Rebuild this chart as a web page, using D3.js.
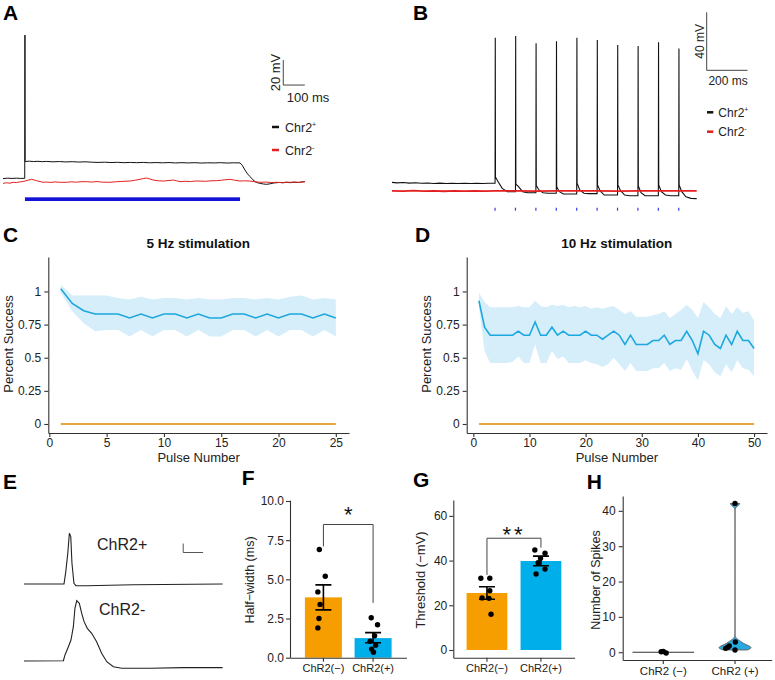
<!DOCTYPE html>
<html><head><meta charset="utf-8">
<script src="https://cdn.jsdelivr.net/npm/d3@7"></script>
<style>
body{margin:0;background:#fff}
svg{display:block}
</style></head><body>
<svg id="fig" width="775" height="680"></svg>
<script>
// ================= DATA =================
// Panel A: 1 s light pulse, traces as [ms, mV]
const traceA_plus = [[-102,-65.2],[-80,-64.9],[-60,-65.1],[-40,-64.9],[-20,-65.1],[-1,-65],[0,49.6],[1,-51.6],[20,-51.3],[40,-51.6],[60,-51.4],[80,-51.7],[100,-51.5],[130,-51.8],[160,-51.6],[190,-51.9],[220,-51.7],[250,-52.0],[280,-51.8],[310,-52.1],[340,-52.3],[370,-52.1],[400,-52.4],[430,-52.2],[460,-52.5],[490,-52.3],[520,-52.5],[550,-52.3],[580,-52.6],[610,-52.4],[640,-52.6],[670,-52.4],[700,-52.7],[730,-52.5],[760,-52.7],[790,-52.5],[820,-52.8],[850,-52.6],[880,-52.7],[910,-52.5],[940,-52.8],[970,-52.6],[1000,-52.7],[1010,-54.5],[1023,-58.4],[1035,-61.5],[1047,-63.7],[1060,-66.2],[1070,-67.7],[1082,-68.6],[1093,-69.0],[1110,-69.6],[1124,-69.8],[1140,-69.4],[1155,-68.8],[1171,-68.5],[1186,-68.3],[1200,-68.6],[1215,-68.2],[1233,-68.5],[1250,-68.1],[1270,-68.4],[1285,-67.9],[1302,-67.7]];
const traceA_minus = [[-102,-69],[-85,-68.6],[-70,-68.9],[-54,-68.2],[-40,-68.4],[-25,-67.9],[-10,-67.6],[0,-67.2],[15,-66.5],[31,-65.8],[42,-66.3],[54,-66.9],[70,-67.6],[85,-68.2],[100,-68.0],[120,-68.3],[140,-67.9],[160,-68.2],[194,-68.2],[215,-67.8],[240,-68.1],[265,-67.7],[287,-67.7],[310,-68.0],[335,-67.6],[360,-68.1],[395,-68.2],[420,-67.8],[450,-67.5],[488,-67.2],[510,-66.6],[535,-65.8],[550,-65.2],[566,-64.8],[580,-65.5],[597,-66.4],[620,-67.0],[643,-67.2],[665,-66.8],[690,-66.4],[705,-67.0],[721,-67.7],[745,-67.4],[770,-67.6],[790,-67.2],[814,-67.2],[840,-67.4],[865,-67.0],[892,-66.9],[915,-66.5],[935,-66.1],[953,-65.8],[975,-66.5],[1000,-67.2],[1020,-67.0],[1047,-67.2],[1070,-67.8],[1093,-68.2],[1120,-68.0],[1145,-68.4],[1171,-68.2],[1195,-68.5],[1215,-68.1],[1233,-68.2],[1255,-68.0],[1280,-68.3],[1302,-67.7]];
const stimA = [0, 1000];           // light on / off (ms)
const scaleBarA = {ms: 100, mV: 20, t0: 1201, v0: 9.6};

// Panel B: 10 Hz train, traces as [ms, mV]
const traceB_plus = [[-505,-59.8],[-480,-60.1],[-450,-59.9],[-420,-60.3],[-390,-60.0],[-360,-60.4],[-330,-60.2],[-300,-60.5],[-270,-60.3],[-240,-60.5],[-210,-60.4],[-180,-60.6],[-150,-60.4],[-120,-60.6],[-90,-60.4],[-60,-60.5],[-30,-60.4],[-1,-60.4],
 [0,-60.4],[1,40.0],[2,-56],[15,-59.3],[35,-63.9],[60,-66.2],[99,-66.2],
 [100,-66.2],[101,41.2],[102,-61],[115,-62.7],[135,-66.2],[160,-66.9],[199,-66.9],
 [200,-66.9],[201,36.1],[202,-62],[215,-65],[235,-66.9],[260,-67.3],[299,-67.3],
 [300,-67.3],[301,37.5],[302,-62.8],[315,-66.2],[335,-67.8],[360,-67.8],[399,-67.8],
 [400,-67.8],[401,40],[402,-60.4],[415,-65],[435,-67.3],[460,-67.5],[499,-67.5],
 [500,-67.5],[501,38.4],[502,-61.6],[515,-65.7],[535,-68.5],[560,-68.5],[599,-68.5],
 [600,-68.5],[601,35],[602,-61.6],[615,-65.5],[635,-68.5],[660,-69],[699,-69],
 [700,-69],[701,34.3],[702,-62.3],[715,-66.9],[735,-69],[760,-69],[799,-69],
 [800,-69],[801,36.8],[802,-61.6],[815,-66.2],[835,-68.5],[860,-69],[899,-69],
 [900,-69],[901,32.6],[902,-61.6],[915,-66.2],[935,-69.7],[960,-70.8],[988,-71]];
const traceB_minus = [[-505,-65.6],[-450,-65.8],[-400,-65.5],[-350,-65.8],[-300,-65.6],[-250,-65.9],[-200,-65.6],[-150,-65.8],[-100,-65.6],[-50,-65.8],[0,-65.7],[100,-65.6],[200,-65.8],[300,-65.6],[400,-65.7],[500,-65.6],[600,-65.8],[700,-65.6],[800,-65.7],[900,-65.6],[988,-65.7]];
const stimB = [0,100,200,300,400,500,600,700,800,900];
const scaleBarB = {ms: 200, mV: 40, t0: 1037, v0: 17.5};

// Panel C: 5 Hz, 25 pulses
const c5Mean  = [1.02,0.91,0.855,0.83,0.83,0.83,0.80,0.83,0.80,0.83,0.83,0.80,0.83,0.80,0.80,0.83,0.83,0.80,0.83,0.80,0.83,0.83,0.80,0.83,0.80];
const c5Upper = [1.05,0.97,0.97,0.97,0.97,0.95,0.94,0.96,0.94,0.95,0.95,0.94,0.95,0.94,0.94,0.95,0.95,0.94,0.95,0.94,0.96,0.97,0.94,0.95,0.94];
const c5Lower = [0.99,0.85,0.76,0.70,0.71,0.71,0.66,0.71,0.66,0.71,0.71,0.66,0.71,0.66,0.66,0.71,0.71,0.66,0.71,0.66,0.71,0.71,0.66,0.71,0.66];
const c5Neg   = [0,0,0,0,0,0,0,0,0,0,0,0,0,0,0,0,0,0,0,0,0,0,0,0,0];

// Panel D: 10 Hz, 50 pulses
const d10Mean  = [0.93,0.73,0.67,0.67,0.67,0.67,0.67,0.70,0.67,0.67,0.77,0.67,0.67,0.73,0.67,0.70,0.67,0.67,0.67,0.70,0.67,0.67,0.64,0.67,0.70,0.67,0.60,0.67,0.60,0.60,0.60,0.63,0.63,0.67,0.60,0.63,0.63,0.70,0.63,0.53,0.70,0.67,0.60,0.57,0.67,0.60,0.70,0.63,0.63,0.57];
const d10Upper = [0.99,0.92,0.88,0.88,0.88,0.88,0.88,0.89,0.88,0.88,0.93,0.89,0.88,0.90,0.89,0.90,0.88,0.89,0.88,0.89,0.87,0.88,0.87,0.88,0.89,0.86,0.83,0.85,0.81,0.81,0.81,0.82,0.83,0.85,0.80,0.83,0.86,0.90,0.86,0.80,0.92,0.88,0.83,0.80,0.89,0.83,0.88,0.84,0.85,0.78];
const d10Lower = [0.88,0.55,0.46,0.46,0.46,0.46,0.47,0.51,0.46,0.46,0.60,0.46,0.46,0.55,0.49,0.51,0.46,0.46,0.46,0.48,0.46,0.45,0.43,0.45,0.50,0.45,0.40,0.46,0.40,0.40,0.40,0.42,0.42,0.46,0.40,0.42,0.41,0.49,0.40,0.33,0.48,0.45,0.39,0.36,0.45,0.39,0.48,0.42,0.41,0.36];
const d10Neg   = [0,0,0,0,0,0,0,0,0,0,0,0,0,0,0,0,0,0,0,0,0,0,0,0,0,0,0,0,0,0,0,0,0,0,0,0,0,0,0,0,0,0,0,0,0,0,0,0,0,0];

const successTicks = [0, 0.25, 0.5, 0.75, 1];
const pulseTicksC = [0, 5, 10, 15, 20, 25];
const pulseTicksD = [0, 10, 20, 30, 40, 50];

// Panel E: example action potentials [ms, mV re baseline]
const apPlus  = [[0,0],[2.01,0],[2.10,13.7],[2.20,34.1],[2.28,56.3],[2.35,52.6],[2.41,23],[2.51,0.8],[2.61,-1.9],[3.15,-1.9],[5.49,-0.8],[9.98,0]];
const apMinus = [[0,0],[1.98,0.3],[2.06,6.7],[2.23,15.9],[2.36,23.3],[2.48,38.1],[2.56,58.6],[2.65,67],[2.78,64.1],[2.90,53],[3.02,43.7],[3.18,36.3],[3.40,30.8],[3.65,21.4],[3.90,8.6],[4.16,-0.8],[4.49,-6.3],[4.91,-8.1],[6.33,-8.1],[8.01,-7.4],[9.98,-7.4]];
const scaleBarE = {ms: 1, mV: 10, t0: 8, v0: 45};

// Panels F, G, H
const groupsFG = ['ChR2(\u2212)', 'ChR2(+)'];
const halfWidthMean = [3.85, 1.25];
const halfWidthErr  = [[3.05, 4.65], [0.95, 1.6]];
const halfWidthPts  = [[6.9, 5.2, 4.2, 3.4, 2.5, 1.9], [2.55, 2.1, 1.4, 1.05, 0.8, 0.55, 0.35]];
const halfWidthJit  = [[-0.11, 0.05, -0.15, -0.09, -0.12, -0.15], [-0.05, 0.12, 0.04, -0.08, 0.07, -0.04, 0.01]];
const halfWidthTicks = [0, 2.5, 5, 7.5, 10];
const sigF = {y: 8.5, left: 7.1, right: 3.5, label: '*'};

const thresholdMean = [25.5, 39.8];
const thresholdErr  = [[22.7, 28.3], [37.7, 42.0]];
const thresholdPts  = [[32.1, 32.1, 26.5, 23.3, 23.1, 16.0], [44.7, 43.3, 41.0, 39.0, 36.2, 34.0]];
const thresholdJit  = [[-0.15, 0.07, 0.07, -0.12, 0.05, 0.10], [-0.15, 0.10, -0.01, -0.07, 0.10, -0.12]];
const thresholdTicks = [0, 20, 40, 60];
const sigG = {y: 50, left: 33.6, right: 45.8, label: '**'};

const groupsH = ['ChR2 (\u2212)', 'ChR2 (+)'];
const spikesPts = [[0.15, 0.2, -0.2], [42.1, 2.9, 1.8, 1.4, 1.1, 0.65]];
const spikesJit = [[-0.03, 0.0, 0.04], [0.0, 0.005, -0.08, -0.1, -0.13, 0.0]];
const spikesTicks = [0, 10, 20, 30, 40];

// ================= DRAWING =================
const svg = d3.select('#fig');
const FONT = '"Liberation Sans", Arial, Helvetica, sans-serif';
const NARROW = '"Liberation Sans Narrow", "Liberation Sans", Arial, sans-serif';
const AX = '#333', TX = '#222';
const BLUE = '#1ca8de', BAND = '#d5eefa', ORANGE = '#e9a73b';
const BAR_OR = '#f69d00', BAR_BL = '#00aee9';

function text(x, y, s, o = {}) {
  const t = svg.append('text').attr('x', x).attr('y', y).text(s)
    .attr('font-family', o.family || FONT).attr('font-size', o.size || 12)
    .attr('fill', o.fill || TX).attr('text-anchor', o.anchor || 'start');
  if (o.bold) t.attr('font-weight', 'bold');
  if (o.rotate) t.attr('transform', `rotate(-90,${x},${y})`);
  if (o.ls) t.attr('letter-spacing', o.ls);
  return t;
}
function styleAxis(g, size) {
  g.selectAll('path').attr('stroke', AX).attr('stroke-width', 1.1);
  g.selectAll('line').attr('stroke', AX).attr('stroke-width', 1.1);
  g.selectAll('text').attr('font-family', FONT).attr('font-size', size).attr('fill', TX);
}
function panelLabel(s, x, y) { text(x, y, s, {size: 21, bold: true, fill: '#000'}); }

// ---------- A ----------
panelLabel('A', 3, 20);
{
  const x = d3.scaleLinear().domain([-102, 1302]).range([3, 305]);
  const y = d3.scaleLinear().domain([-70, 50]).range([184.55, 34.55]);
  const line = d3.line().x(d => x(d[0])).y(d => y(d[1]));
  svg.append('path').attr('d', line(traceA_plus)).attr('fill', 'none').attr('stroke', '#111').attr('stroke-width', 1);
  svg.append('path').attr('d', line(traceA_minus)).attr('fill', 'none').attr('stroke', '#e3201f').attr('stroke-width', 1);
  svg.append('rect').attr('x', x(stimA[0])).attr('width', x(stimA[1]) - x(stimA[0]))
    .attr('y', 197.3).attr('height', 3.7).attr('fill', '#1414d6');
  const sb = scaleBarA;
  svg.append('path').attr('d', `M${x(sb.t0)},${y(sb.v0 + sb.mV)}V${y(sb.v0)}H${x(sb.t0 + sb.ms)}`)
    .attr('fill', 'none').attr('stroke', '#444').attr('stroke-width', 1);
  text(280, (y(sb.v0) + y(sb.v0 + sb.mV)) / 2, sb.mV + ' mV', {family: NARROW, size: 13, anchor: 'middle', rotate: true});
  text((x(sb.t0) + x(sb.t0 + sb.ms)) / 2 + 14, 101.5, sb.ms + ' ms', {family: NARROW, size: 13, anchor: 'middle'});
  // legend
  [['#111', 127, '+'], ['#e3201f', 150, '-']].forEach(([c, yy, sup]) => {
    svg.append('line').attr('x1', 272).attr('x2', 279).attr('y1', yy).attr('y2', yy).attr('stroke', c).attr('stroke-width', 2.5);
    const t = text(285, yy + 4.5, 'Chr2', {size: 12.5});
    t.append('tspan').attr('font-size', 7).attr('dy', -5).text(sup);
  });
}

// ---------- B ----------
panelLabel('B', 413, 20);
{
  const x = d3.scaleLinear().domain([-505, 988]).range([392, 696.7]);
  const y = d3.scaleLinear().domain([-72, 42]).range([200.1, 34.8]);
  const line = d3.line().x(d => x(d[0])).y(d => y(d[1]));
  svg.append('path').attr('d', line(traceB_plus)).attr('fill', 'none').attr('stroke', '#111').attr('stroke-width', 1.1);
  svg.append('path').attr('d', line(traceB_minus)).attr('fill', 'none').attr('stroke', '#e3201f').attr('stroke-width', 1.8);
  svg.selectAll('.stimB').data(stimB).enter().append('line')
    .attr('x1', d => x(d)).attr('x2', d => x(d)).attr('y1', 207.7).attr('y2', 210.7)
    .attr('stroke', '#3b3bf0').attr('stroke-width', 1.2);
  const sb = scaleBarB;
  svg.append('path').attr('d', `M${x(sb.t0)},${y(sb.v0 + sb.mV)}V${y(sb.v0)}H${x(sb.t0 + sb.ms)}`)
    .attr('fill', 'none').attr('stroke', '#444').attr('stroke-width', 1);
  text(704.5, (y(sb.v0) + y(sb.v0 + sb.mV)) / 2 - 0, sb.mV + ' mV', {family: NARROW, size: 12, anchor: 'middle', rotate: true});
  text((x(sb.t0) + x(sb.t0 + sb.ms)) / 2 + 1, 85, sb.ms + ' ms', {family: NARROW, size: 12, anchor: 'middle'});
  [['#111', 112.3, '+'], ['#e3201f', 131.7, '-']].forEach(([c, yy, sup]) => {
    svg.append('line').attr('x1', 707).attr('x2', 713.3).attr('y1', yy).attr('y2', yy).attr('stroke', c).attr('stroke-width', 2.5);
    const t = text(718.3, yy + 4.3, 'Chr2', {size: 12});
    t.append('tspan').attr('font-size', 7).attr('dy', -5).text(sup);
  });
}

// ---------- C & D ----------
function successPanel(opt) {
  const x = d3.scaleLinear().domain(opt.xdom).range(opt.xr);
  const y = d3.scaleLinear().domain([-0.068, 1.26]).range([433, 257]);
  const idx = d3.range(opt.mean.length);
  const area = d3.area().x(i => x(i + 1)).y0(i => y(opt.lower[i])).y1(i => y(opt.upper[i]));
  svg.append('path').attr('d', area(idx)).attr('fill', BAND);
  const line = d3.line().x(i => x(i + 1));
  svg.append('path').attr('d', line.y(i => y(opt.neg[i]))(idx)).attr('fill', 'none').attr('stroke', ORANGE).attr('stroke-width', 2);
  svg.append('path').attr('d', line.y(i => y(opt.mean[i]))(idx)).attr('fill', 'none').attr('stroke', BLUE).attr('stroke-width', 1.6);
  const ga = svg.append('g').attr('transform', `translate(${opt.xr[0]},0)`)
    .call(d3.axisLeft(y).tickValues(successTicks).tickFormat(d3.format('~g')).tickSize(4).tickSizeOuter(0).tickPadding(3));
  styleAxis(ga, 12);
  const gb = svg.append('g').attr('transform', `translate(0,433)`)
    .call(d3.axisBottom(x).tickValues(opt.xticks).tickSize(4).tickSizeOuter(0).tickPadding(1));
  styleAxis(gb, 12);
  text((opt.xr[0] + opt.xr[1]) / 2, 462, 'Pulse Number', {size: 13, anchor: 'middle'});
  text(opt.xr[0] - 35.5, 344, 'Percent Success', {size: 13, anchor: 'middle', rotate: true});
  text(opt.titleX, 247.5, opt.title, {size: 13.5, bold: true, anchor: 'middle', fill: '#111'});
}
panelLabel('C', 3, 242);
successPanel({xdom: [-0.09, 26.15], xr: [48.3, 349], mean: c5Mean, upper: c5Upper, lower: c5Lower, neg: c5Neg, xticks: pulseTicksC, title: '5 Hz stimulation', titleX: 198.3});
panelLabel('D', 415, 242);
successPanel({xdom: [-1.18, 52.3], xr: [466.7, 767], mean: d10Mean, upper: d10Upper, lower: d10Lower, neg: d10Neg, xticks: pulseTicksD, title: '10 Hz stimulation', titleX: 616.7});

// ---------- E ----------
panelLabel('E', 3, 489);
{
  const x = d3.scaleLinear().domain([0, 10]).range([24, 223]);
  const yP = d3.scaleLinear().domain([0, 60]).range([584, 530]);
  const yM = d3.scaleLinear().domain([0, 60]).range([661, 607]);
  svg.append('path').attr('d', d3.line().x(d => x(d[0])).y(d => yP(d[1]))(apPlus)).attr('fill', 'none').attr('stroke', '#222').attr('stroke-width', 1.1);
  svg.append('path').attr('d', d3.line().x(d => x(d[0])).y(d => yM(d[1]))(apMinus)).attr('fill', 'none').attr('stroke', '#222').attr('stroke-width', 1.1);
  const sb = scaleBarE;
  svg.append('path').attr('d', `M${x(sb.t0)},${yP(sb.v0)}V${yP(sb.v0 - sb.mV)}H${x(sb.t0 + sb.ms)}`)
    .attr('fill', 'none').attr('stroke', '#555').attr('stroke-width', 1);
  text(97, 550, 'ChR2+', {size: 16});
  text(99, 615, 'ChR2-', {size: 16});
}

// ---------- F & G ----------
function barPanel(opt) {
  const x = d3.scaleBand().domain(groupsFG).range(opt.xr).paddingInner(opt.pi).paddingOuter(opt.po);
  const y = d3.scaleLinear().domain(opt.ydom).range([657.7, opt.ytop]);
  const cols = [BAR_OR, BAR_BL];
  svg.selectAll(null).data(groupsFG).enter().append('rect')
    .attr('x', d => x(d)).attr('width', x.bandwidth())
    .attr('y', (d, i) => y(opt.mean[i])).attr('height', (d, i) => y(0) - y(opt.mean[i]))
    .attr('fill', (d, i) => cols[i]);
  groupsFG.forEach((g, i) => {
    const cx = x(g) + x.bandwidth() / 2;
    const [lo, hi] = opt.err[i];
    opt.pts[i].forEach((v, j) => {
      svg.append('circle').attr('cx', cx + opt.jit[i][j] * x.bandwidth()).attr('cy', y(v)).attr('r', 2.7).attr('fill', '#000');
    });
    svg.append('path').attr('d', `M${cx},${y(lo)}V${y(hi)}M${cx - 8},${y(lo)}H${cx + 8}M${cx - 8},${y(hi)}H${cx + 8}`)
      .attr('stroke', '#000').attr('stroke-width', 1.6).attr('fill', 'none');
  });
  const c1 = x(groupsFG[0]) + x.bandwidth() / 2, c2 = x(groupsFG[1]) + x.bandwidth() / 2;
  const s = opt.sig;
  svg.append('path').attr('d', `M${c1},${y(s.left)}V${y(s.y)}H${c2}V${y(s.right)}`)
    .attr('fill', 'none').attr('stroke', '#444').attr('stroke-width', 1);
  text((c1 + c2) / 2, opt.sigY, s.label, {size: 22, anchor: 'middle', fill: '#111', ls: s.label.length > 1 ? 3 : 0});
  const ga = svg.append('g').attr('transform', `translate(${opt.xr[0]},0)`)
    .call(d3.axisLeft(y).tickValues(opt.ticks).tickFormat(opt.fmt).tickSize(4).tickSizeOuter(0).tickPadding(2));
  styleAxis(ga, 12);
  const gb = svg.append('g').attr('transform', `translate(0,657.7)`)
    .call(d3.axisBottom(x).tickSize(4).tickSizeOuter(0).tickPadding(3));
  styleAxis(gb, 11);
  text(opt.ylabX, 580, opt.ylab, {size: opt.ylabSize, anchor: 'middle', rotate: true});
}
panelLabel('F', 241.7, 485);
barPanel({xr: [290, 406.5], pi: 0.255, po: 0.30, ydom: [0, 10.05], ytop: 500.2,
  mean: halfWidthMean, err: halfWidthErr, pts: halfWidthPts, jit: halfWidthJit, ticks: halfWidthTicks,
  fmt: d3.format('.1f'), sig: sigF, sigY: 522, ylab: 'Half\u2212width (ms)', ylabX: 254, ylabSize: 12.5});
panelLabel('G', 413, 487);
barPanel({xr: [453.3, 574.6], pi: 0.245, po: 0.246, ydom: [-3.45, 67.1], ytop: 500,
  mean: thresholdMean, err: thresholdErr, pts: thresholdPts, jit: thresholdJit, ticks: thresholdTicks,
  fmt: d3.format('d'), sig: sigG, sigY: 542, ylab: 'Threshold (\u2212mV)', ylabX: 425, ylabSize: 13});

// ---------- H ----------
panelLabel('H', 586.7, 489);
{
  const x = d3.scaleBand().domain(groupsH).range([622.7, 771.7]).paddingInner(0).paddingOuter(0.039).align(0.85);
  const y = d3.scaleLinear().domain([-2.2, 44.2]).range([660, 496]);
  const cx = g => x(g) + x.bandwidth() / 2;
  // ChR2(-): all zeros -> flat violin
  svg.append('line').attr('x1', cx(groupsH[0]) - x.bandwidth() * 0.43).attr('x2', cx(groupsH[0]) + x.bandwidth() * 0.43)
    .attr('y1', y(0)).attr('y2', y(0)).attr('stroke', '#333').attr('stroke-width', 1.1);
  // ChR2(+): gaussian KDE, trimmed to data range
  const vals = spikesPts[1].slice().sort(d3.ascending);
  const sd = d3.deviation(vals), iqr = d3.quantile(vals, 0.75) - d3.quantile(vals, 0.25);
  const bw = 0.9 * Math.min(sd, iqr / 1.34) * Math.pow(vals.length, -0.2);
  const lo = vals[0], hi = vals[vals.length - 1];
  const grid = d3.range(0, 301).map(k => lo + (hi - lo) * k / 300);
  const dens = grid.map(g => [g, d3.mean(vals, v => Math.exp(-0.5 * ((g - v) / bw) ** 2)) / (bw * Math.sqrt(2 * Math.PI))]);
  const w = d3.scaleLinear().domain([0, d3.max(dens, d => d[1])]).range([0, 15.9]);
  const c = cx(groupsH[1]);
  svg.append('path').attr('d', d3.area().y(d => y(d[0])).x0(d => c - w(d[1])).x1(d => c + w(d[1]))(dens))
    .attr('fill', '#27aae0').attr('stroke', '#666').attr('stroke-width', 1);
  spikesPts.forEach((arr, i) => arr.forEach((v, j) => {
    svg.append('circle').attr('cx', cx(groupsH[i]) + spikesJit[i][j] * x.bandwidth()).attr('cy', y(v)).attr('r', 2.7).attr('fill', '#000');
  }));
  const ga = svg.append('g').attr('transform', 'translate(622.7,0)')
    .call(d3.axisLeft(y).tickValues(spikesTicks).tickSize(4).tickSizeOuter(0).tickPadding(3));
  styleAxis(ga, 12);
  const gb = svg.append('g').attr('transform', 'translate(0,660)')
    .call(d3.axisBottom(x).tickSize(4).tickSizeOuter(0).tickPadding(3));
  styleAxis(gb, 11.5);
  text(600, 580, 'Number of Spikes', {size: 12.5, anchor: 'middle', rotate: true});
}
</script>
</body></html>
